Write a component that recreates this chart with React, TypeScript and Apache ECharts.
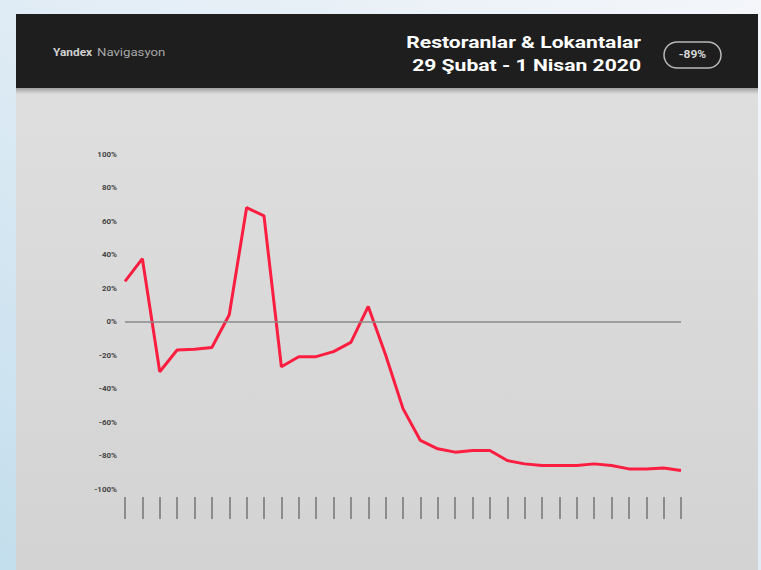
import React, { useEffect, useRef } from "react";
import * as echarts from "echarts";

const days = [
  "29 Şub", "1 Mar", "2 Mar", "3 Mar", "4 Mar", "5 Mar", "6 Mar", "7 Mar", "8 Mar", "9 Mar",
  "10 Mar", "11 Mar", "12 Mar", "13 Mar", "14 Mar", "15 Mar", "16 Mar", "17 Mar", "18 Mar",
  "19 Mar", "20 Mar", "21 Mar", "22 Mar", "23 Mar", "24 Mar", "25 Mar", "26 Mar", "27 Mar",
  "28 Mar", "29 Mar", "30 Mar", "31 Mar", "1 Nis",
];

const change = [
  24, 37.5, -30, -17, -16.5, -15.5, 4, 68, 63, -27, -21, -21, -18, -12.5, 9, -20, -52,
  -71, -76, -78, -77, -77, -83, -85, -86, -86, -86, -85, -86, -88, -88, -87.5, -89,
];

const yTicks = ["-100%", "-80%", "-60%", "-40%", "-20%", "0%", "20%", "40%", "60%", "80%", "100%"];

const title1 = "Restoranlar & Lokantalar";
const title2 = "29 Şubat - 1 Nisan 2020";
const badge = "-89%";
const brandA = "Yandex";
const brandB = "Navigasyon";

export default function App() {
  const ref = useRef<HTMLDivElement>(null);
  useEffect(() => {
    if (!ref.current) return;
    const chart = echarts.init(ref.current, null, { renderer: "svg" });
    chart.setOption({
      animation: false,
      backgroundColor: {
        type: "linear", x: 1, y: 0, x2: 0, y2: 1,
        colorStops: [
          { offset: 0, color: "#f4f6fa" },
          { offset: 0.5, color: "#e0ecf5" },
          { offset: 1, color: "#c3deed" },
        ],
      },
      graphic: [
        {
          type: "rect", z: -10, silent: true,
          shape: { x: 16, y: 14, width: 742, height: 556 },
          style: {
            fill: {
              type: "linear", x: 0, y: 0, x2: 0, y2: 1,
              colorStops: [
                { offset: 0, color: "#e0e0e0" },
                { offset: 1, color: "#d3d3d3" },
              ],
            },
          },
        },
        {
          type: "rect", z: -9, silent: true,
          shape: { x: 16, y: 86, width: 742, height: 8 },
          style: {
            fill: {
              type: "linear", x: 0, y: 0, x2: 0, y2: 1,
              colorStops: [
                { offset: 0, color: "#8c8c8c" },
                { offset: 1, color: "#dcdcdc" },
              ],
            },
          },
        },
        {
          type: "rect", z: -8, silent: true,
          shape: { x: 16, y: 14, width: 742, height: 74 },
          style: { fill: "#1e1e1e" },
        },
        {
          type: "text", z: 10, x: 53, y: 52, scaleX: 1.08,
          style: {
            text: brandA, fill: "#d0d0d0", fontSize: 11, fontWeight: "bold",
            fontFamily: "Roboto", verticalAlign: "middle",
          },
        },
        {
          type: "text", z: 10, x: 97, y: 52, scaleX: 1.2,
          style: {
            text: brandB, fill: "#a8a8a8", fontSize: 11,
            fontFamily: "Roboto", verticalAlign: "middle",
          },
        },
        {
          type: "text", z: 10, x: 641, y: 43, scaleX: 1.32,
          style: {
            text: title1, fill: "#ffffff", fontSize: 16, fontWeight: "bold",
            fontFamily: "Roboto", align: "right", verticalAlign: "middle",
          },
        },
        {
          type: "text", z: 10, x: 641, y: 66, scaleX: 1.32,
          style: {
            text: title2, fill: "#ffffff", fontSize: 16, fontWeight: "bold",
            fontFamily: "Roboto", align: "right", verticalAlign: "middle",
          },
        },
        {
          type: "rect", z: 10,
          shape: { x: 664, y: 42, width: 57, height: 26, r: 13 },
          style: { fill: "none", stroke: "#b8b8b8", lineWidth: 1.5 },
        },
        {
          type: "text", z: 11, x: 692.5, y: 55, scaleX: 1.2,
          style: {
            text: badge, fill: "#d8d8d8", fontSize: 10, fontWeight: "bold",
            fontFamily: "Roboto", align: "center", verticalAlign: "middle",
          },
        },
      ],
      grid: { left: 125, right: 80, top: 154, bottom: 81, containLabel: false },
      xAxis: {
        type: "category",
        data: days,
        boundaryGap: false,
        position: "bottom",
        offset: 8,
        axisLine: { show: false, onZero: false },
        axisTick: {
          show: true, length: 22, alignWithLabel: true, interval: 0,
          lineStyle: { color: "#8c8c8c", width: 2 },
        },
        axisLabel: { show: false },
        splitLine: { show: false },
      },
      yAxis: {
        type: "value",
        min: -100,
        max: 100,
        interval: 20,
        axisLine: { show: false },
        axisTick: { show: false },
        splitLine: { show: false },
        axisLabel: {
          margin: 8,
          color: "#444444",
          fontSize: 8,
          fontWeight: "bold",
          fontFamily: "Roboto",
          formatter: (v: number) => yTicks[Math.round((v + 100) / 20)],
        },
      },
      series: [
        {
          type: "line",
          data: change,
          symbol: "none",
          lineStyle: { color: "#fb1e40", width: 3 },
          markLine: {
            silent: true,
            symbol: "none",
            label: { show: false },
            lineStyle: { color: "#8a8a8a", width: 1.5, type: "solid" },
            data: [{ yAxis: 0 }],
          },
          z: 3,
        },
      ],
    });
    return () => chart.dispose();
  }, []);
  return (
    <div
      ref={ref}
      style={{ position: "fixed", left: 0, top: 0, width: 761, height: 570 }}
    />
  );
}
